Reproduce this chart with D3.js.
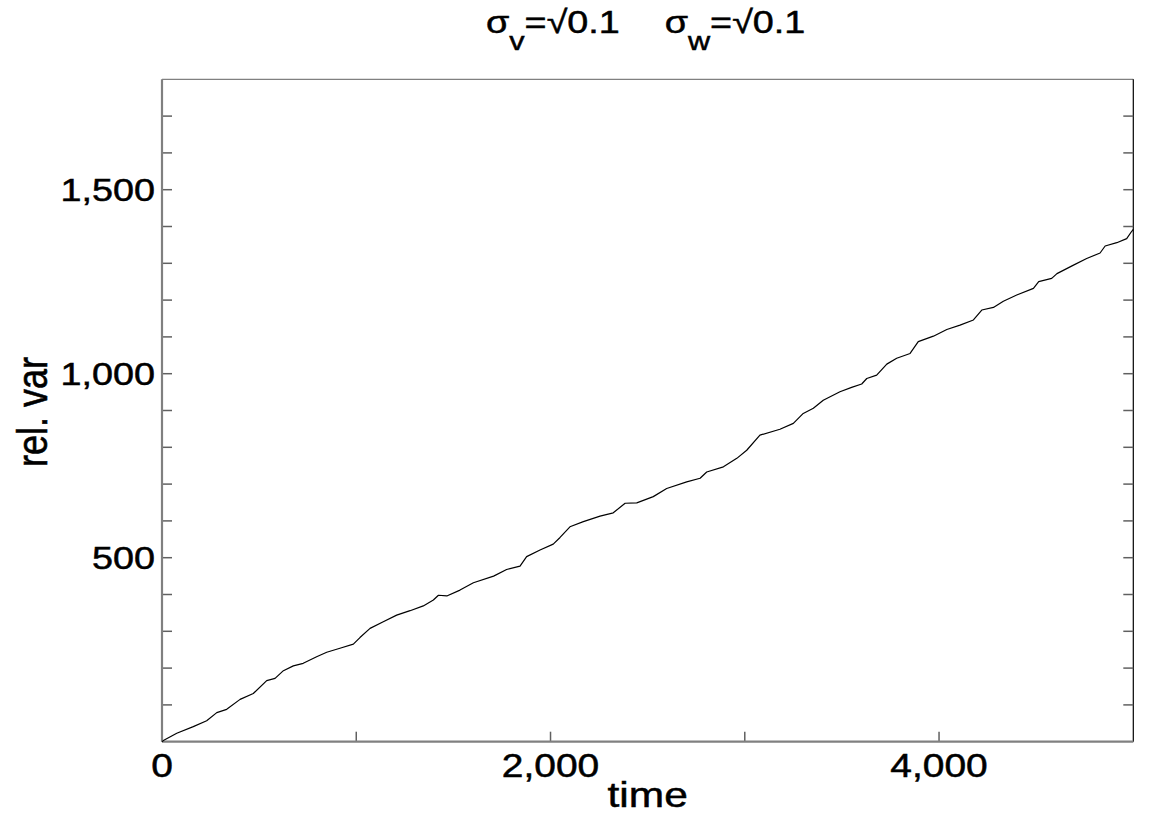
<!DOCTYPE html>
<html>
<head>
<meta charset="utf-8">
<script src="https://cdn.jsdelivr.net/npm/d3@7"></script>
<style>
  html, body { margin: 0; padding: 0; background: #fff; }
  svg { display: block; }
  text { font-family: "Liberation Sans", Arial, Helvetica, sans-serif; fill: #000; stroke: #000; stroke-width: 0.5px; }
</style>
</head>
<body>
<svg id="chart" width="1170" height="827"></svg>
<script>
// ---- data ----
const times = [0, 7, 76, 161, 230, 282, 333, 402, 470, 539, 582, 625, 676, 727, 796, 848, 916, 985, 1019,
  1071, 1139, 1208, 1277, 1345, 1397, 1423, 1466, 1534, 1603, 1707, 1774, 1843, 1877, 1946, 2014, 2049,
  2100, 2169, 2255, 2323, 2384, 2444, 2529, 2598, 2701, 2770, 2804, 2890, 2959, 3010, 3078,
  3181, 3250, 3301, 3353, 3404, 3490, 3550, 3602, 3628, 3679, 3731, 3782, 3851, 3893, 3971, 4040, 4108,
  4177, 4220, 4280, 4331, 4400, 4486, 4513, 4580, 4607, 4692, 4760, 4829, 4855, 4915, 4966, 4992, 5000];
const relVar = [0, 3, 23, 41, 57, 79, 88, 115, 131, 166, 172, 193, 206, 213, 231, 243, 254, 265, 283,
  308, 326, 344, 356, 369, 385, 398, 396, 412, 432, 450, 468, 477, 503, 521, 537, 555,
  584, 598, 613, 622, 648, 649, 666, 688, 706, 716, 733, 747, 770, 792, 833,
  849, 865, 892, 906, 928, 951, 963, 972, 987, 996, 1026, 1042, 1055, 1087, 1102, 1120, 1132,
  1146, 1173, 1180, 1197, 1214, 1232, 1250, 1259, 1272, 1295, 1313, 1328, 1347, 1356, 1367, 1387, 1392];
const xTicks = [0, 1000, 2000, 3000, 4000, 5000];
const xTickLabels = [0, 2000, 4000];
const yTicks = d3.range(100, 1800, 100);
const yTickLabels = [500, 1000, 1500];
const xDomain = [0, 5000];
const yDomain = [0, 1800];

// ---- layout ----
const L = 162, R = 1133.3, T = 79.3, B = 741.7;
const SX = 1.18; // horizontal stretch of glyphs in the original
const svg = d3.select("#chart");
const x = d3.scaleLinear().domain(xDomain).range([L, R]);
const y = d3.scaleLinear().domain(yDomain).range([B, T]);
const fmt = d3.format(",");

// frame
svg.append("line").attr("x1", L).attr("x2", R).attr("y1", T).attr("y2", T)
  .attr("stroke", "#808080").attr("stroke-width", 1.2);
svg.append("line").attr("x1", R).attr("x2", R).attr("y1", T).attr("y2", B)
  .attr("stroke", "#000").attr("stroke-width", 1.2);

// ticks (inward) on bottom, left, right
const tickCol = "#606060";
svg.append("g").selectAll("line").data(xTicks.filter(d => d > 0 && d < 5000)).join("line")
  .attr("x1", d => x(d)).attr("x2", d => x(d)).attr("y1", B).attr("y2", B - 10)
  .attr("stroke", tickCol).attr("stroke-width", 1.5);
svg.append("g").selectAll("line").data(yTicks).join("line")
  .attr("x1", L).attr("x2", L + 10).attr("y1", d => y(d)).attr("y2", d => y(d))
  .attr("stroke", tickCol).attr("stroke-width", 1.5);
svg.append("g").selectAll("line").data(yTicks).join("line")
  .attr("x1", R - 10).attr("x2", R).attr("y1", d => y(d)).attr("y2", d => y(d))
  .attr("stroke", tickCol).attr("stroke-width", 1.5);

// axis lines
svg.append("line").attr("x1", L).attr("x2", R).attr("y1", B).attr("y2", B)
  .attr("stroke", "#808080").attr("stroke-width", 2.2);
svg.append("line").attr("x1", L).attr("x2", L).attr("y1", T).attr("y2", B)
  .attr("stroke", "#808080").attr("stroke-width", 2.2);

// tick labels
svg.append("g").selectAll("text").data(xTickLabels).join("text")
  .attr("transform", d => `translate(${x(d)},777) scale(${SX},1)`)
  .attr("text-anchor", "middle").attr("font-size", 33)
  .text(d => fmt(d));
svg.append("g").selectAll("text").data(yTickLabels).join("text")
  .attr("transform", d => `translate(155,${y(d) + 11.5}) scale(${SX},1)`)
  .attr("text-anchor", "end").attr("font-size", 32)
  .text(d => fmt(d));

// data line
const line = d3.line().x((d, i) => x(times[i])).y(d => y(d));
svg.append("path").datum(relVar)
  .attr("d", line)
  .attr("fill", "none").attr("stroke", "#000").attr("stroke-width", 1.2)
  .attr("stroke-linejoin", "round");

// axis titles
svg.append("text").attr("transform", `translate(${(L + R) / 2},807) scale(${SX},1)`)
  .attr("text-anchor", "middle").attr("font-size", 36).text("time");
svg.append("text").attr("transform", `translate(47,412) scale(${SX},1) rotate(-90)`)
  .attr("text-anchor", "middle").attr("font-size", 36).text("rel. var");

// title
const title = svg.append("text")
  .attr("transform", `translate(${(L + R) / 2 - 2},33) scale(${SX},1)`)
  .attr("text-anchor", "middle").attr("font-size", 32);
title.append("tspan").text("σ");
title.append("tspan").attr("font-size", 26).attr("dy", 17).text("v");
title.append("tspan").attr("dy", -17).text("=√0.1");
title.append("tspan").attr("dx", 38).text("σ");
title.append("tspan").attr("font-size", 26).attr("dy", 17).text("w");
title.append("tspan").attr("dy", -17).text("=√0.1");
</script>
</body>
</html>
